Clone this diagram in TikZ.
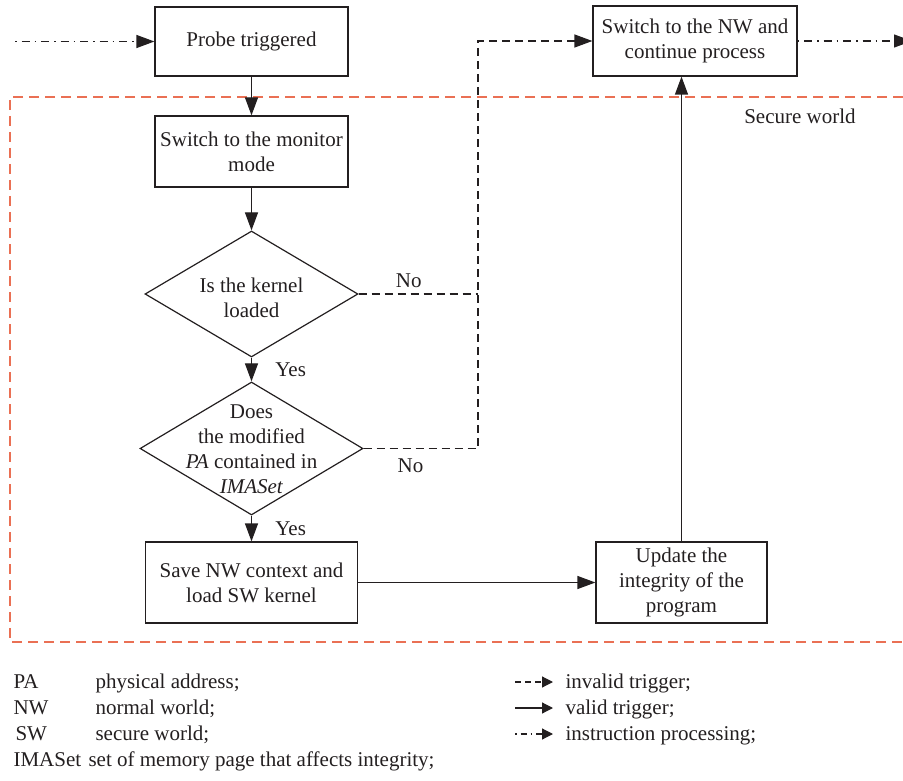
\documentclass[tikz,border=0pt]{standalone}
\usepackage{fontspec}
\setmainfont{Liberation Serif}
\usetikzlibrary{positioning,arrows.meta,shapes.geometric}
\definecolor{ink}{RGB}{35,31,32}
\definecolor{swred}{RGB}{234,112,84}

\begin{document}
\begin{tikzpicture}[x=1pt, y=-1pt, font=\fontsize{21}{25}\selectfont, color=ink,
  box/.style={draw, line width=1.2pt, align=center, inner sep=0pt},
  decision/.style={draw, diamond, line width=1.2pt, inner sep=0pt},
  txt/.style={align=center},
  arr/.style={-{Triangle[length=18pt,width=13pt]}, line width=1.2pt},
  invalid/.style={arr, dash pattern=on 8pt off 5pt},
  instr/.style={arr, dash pattern=on 1.5pt off 5pt on 8pt off 5pt},
  keyarr/.style={-{Triangle[length=11pt,width=11pt]}, line width=1.2pt},
  def/.style={anchor=base west}]
  \useasboundingbox (0,0) rectangle (903,781);

  % flow
  \node[box, minimum width=193pt, minimum height=69pt] (probe) at (251.5,41.5) {Probe triggered};
  \node[box, minimum width=193pt, minimum height=71pt] (monitor) at (251.5,151.5) {Switch to the monitor\\mode};
  \node[decision, minimum width=213pt, minimum height=126pt] (kernel) at (251.5,294) {};
  \node[txt] (kerneltxt) at (251.5,298) {Is the kernel\\loaded};
  \node[decision, minimum width=223pt, minimum height=133pt] (pa) at (251.5,448.5) {};
  \node[txt] (patxt) at (251.5,449) {Does\\the modified\\\textit{PA} contained in\\\textit{IMASet}};
  \node[box, minimum width=212pt, minimum height=81pt] (save) at (251.5,582.5) {Save NW context and\\load SW kernel};
  \node[box, minimum width=171pt, minimum height=81pt] (update) at (681.5,582.5) {Update the\\integrity of the\\program};
  \node[box, minimum width=204pt, minimum height=70pt] (resume) at (695,41) {Switch to the NW and\\continue process};

  \coordinate (inlet) at (15,41.5);
  \coordinate (outlet) at (912,41);
  \coordinate (bend) at (478,41);

  % secure world
  \draw[swred, line width=1.2pt, dash pattern=on 10pt off 6pt] (903,97) -| (10,642) -- (903,642);
  \node (sw) at (800,116) {Secure world};

  % valid
  \draw[arr] (probe) -- (monitor);
  \draw[arr] (monitor) -- (kernel);
  \draw[arr] (kernel) -- node[right=20pt] (yes1) {Yes} (pa);
  \draw[arr] (pa) -- node[right=20pt] (yes2) {Yes} (save);
  \draw[arr] (save) -- (update);
  \draw[arr] (update) -- (update |- resume.south);

  % invalid
  \draw[line width=1.2pt, dash pattern=on 8pt off 5pt] (kernel.east) -- node[pos=0.42, above=2pt] (no1) {No} (kernel.east -| bend);
  \draw[invalid] (pa.east) -- node[pos=0.41, below=6pt] (no2) {No} (pa.east -| bend) -- (bend) -- (resume.west);

  % instruction processing
  \draw[instr] (inlet) -- (probe);
  \draw[instr] (resume) -- (outlet);

  % legend
  \node[def] (kpa) at (10,688) {PA};
  \node[def] (dpa) at (92,688) {physical address;};
  \node[def] (knw) at (10,714) {NW};
  \node[def] (dnw) at (92,714) {normal world;};
  \node[def] (ksw) at (12,740) {SW};
  \node[def] (dsw) at (92,740) {secure world;};
  \node[def] (kima) at (10,766) {IMASet};
  \node[def] (dima) at (85,766) {set of memory page that affects integrity;};

  \node[def] (linv) at (562,688) {invalid trigger;};
  \node[def] (lval) at (562,714) {valid trigger;};
  \node[def] (lins) at (562,740) {instruction processing;};
  \coordinate (a1) at (515,682); \coordinate (b1) at (553,682);
  \coordinate (a2) at (515,708); \coordinate (b2) at (553,708);
  \coordinate (a3) at (515,734); \coordinate (b3) at (553,734);
  \draw[keyarr, dash pattern=on 6pt off 4pt] (a1) -- (b1);
  \draw[keyarr] (a2) -- (b2);
  \draw[keyarr, dash pattern=on 1.5pt off 4pt on 6pt off 4pt] (a3) -- (b3);
\end{tikzpicture}
\end{document}
